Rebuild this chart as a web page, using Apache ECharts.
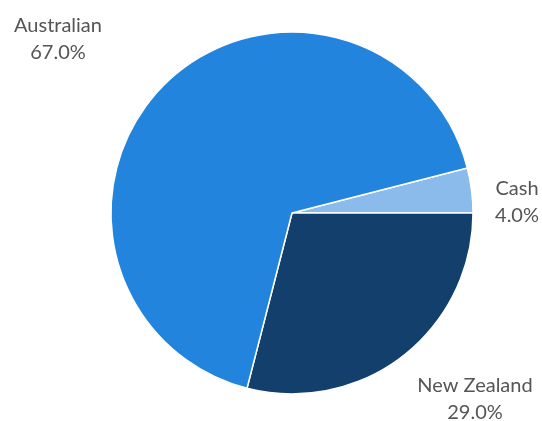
<!DOCTYPE html>
<html>
<head>
<meta charset="utf-8">
<script src="https://cdn.jsdelivr.net/npm/echarts@6/dist/echarts.min.js"></script>
<style>
  html, body { margin: 0; padding: 0; background: #fff; }
  #chart { width: 542px; height: 421px; }
</style>
</head>
<body>
<div id="chart"></div>
<script>
// 数据
var names = ["Cash", "New Zealand", "Australian"];
var values = [4.0, 29.0, 67.0];
var colors = ["#8abbea", "#133f6d", "#2384dd"];

// 标签中心位置
var labelPos = [[517, 202], [475, 399], [58, 39]];

var myChart = echarts.init(document.getElementById("chart"));

var pieData = names.map(function (n, i) {
  return { name: n, value: values[i], itemStyle: { color: colors[i] } };
});

myChart.setOption({
  animation: false,
  series: [
    {
      type: "pie",
      center: [292, 213],
      radius: 181,
      startAngle: 14.4,
      clockwise: true,
      avoidLabelOverlap: false,
      data: pieData,
      itemStyle: { borderColor: "#fff", borderWidth: 1.5 },
      label: {
        show: true,
        position: "outer",
        alignTo: "none",
        overflow: "none",
        fontFamily: "Lato",
        fontSize: 20,
        color: "#555",
        lineHeight: 27,
        align: "center",
        formatter: function (p) {
          return p.name + "\n" + p.value.toFixed(1) + "%";
        },
      },
      labelLine: { show: false },
      labelLayout: function (params) {
        var pos = labelPos[params.dataIndex];
        return {
          x: pos[0],
          y: pos[1],
          align: "center",
          verticalAlign: "middle",
          hideOverlap: false,
        };
      },
      emphasis: { disabled: true },
    },
  ],
});
</script>
</body>
</html>
